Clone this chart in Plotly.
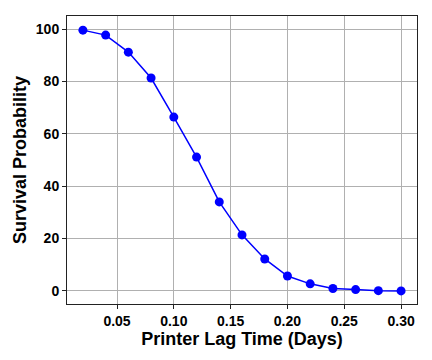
import plotly.graph_objects as go

lag_days = [0.02, 0.04, 0.06, 0.08, 0.10, 0.12, 0.14, 0.16, 0.18, 0.20, 0.22, 0.24, 0.26, 0.28, 0.30]
survival = [99.6, 97.7, 91.2, 81.3, 66.4, 51.1, 34.0, 21.4, 12.2, 5.7, 2.7, 0.9, 0.5, 0.1, 0.0]

x_ticks = [0.05, 0.10, 0.15, 0.20, 0.25, 0.30]
x_ticklabels = ["0.05", "0.10", "0.15", "0.20", "0.25", "0.30"]
y_ticks = [0, 20, 40, 60, 80, 100]

fig = go.Figure(go.Scatter(
    x=lag_days, y=survival, mode="lines+markers",
    line=dict(color="#0000ff", width=1.5),
    marker=dict(color="#0000ff", size=9),
))

axis_common = dict(
    showline=True, linecolor="#222222", linewidth=1, mirror=True,
    showgrid=True, gridcolor="#b0b0b0", gridwidth=1,
    ticks="outside", ticklen=4, tickcolor="#222222",
    zeroline=False,
    tickfont=dict(family="Liberation Sans, Arial", size=14, color="black", weight="bold"),
)

fig.update_layout(
    width=432, height=360,
    margin=dict(l=67, r=15, t=16, b=56),
    paper_bgcolor="white", plot_bgcolor="white",
    showlegend=False,
    xaxis=dict(range=[0.006, 0.314], tickvals=x_ticks, ticktext=x_ticklabels,
               title=dict(text="<b>Printer Lag Time (Days)</b>", standoff=4,
                          font=dict(family="Liberation Sans, Arial", size=18, color="black")),
               **axis_common),
    yaxis=dict(range=[-5, 105], tickvals=y_ticks,
               title=dict(text="<b>Survival Probability</b>", standoff=4,
                          font=dict(family="Liberation Sans, Arial", size=18, color="black")),
               **axis_common),
)

fig.write_html("out.html")
